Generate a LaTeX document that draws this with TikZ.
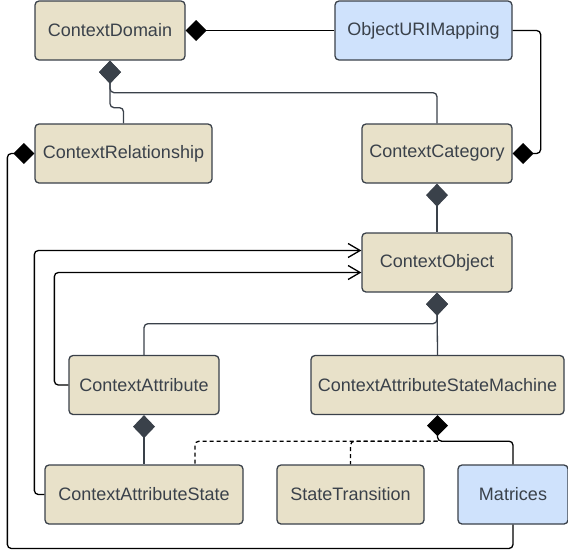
\documentclass[tikz,border=0pt]{standalone}
\usepackage{fontspec}
\setmainfont{Liberation Sans}
\usetikzlibrary{arrows.meta}
\definecolor{tan}{RGB}{232,225,201}
\definecolor{sky}{RGB}{207,226,252}
\definecolor{ink}{RGB}{58,65,74}
\begin{document}
\begin{tikzpicture}[x=1pt, y=-1pt,
    cls/.style = {draw=ink, line width=1.3pt, rounded corners=4pt, fill=tan, text=ink,
      minimum height=59pt, inner sep=0pt, font=\fontsize{18}{21}\selectfont},
    ext/.style = {cls, fill=sky},
    link/.style = {line width=1.3pt, rounded corners=4pt},
    owns/.style = {link, {Diamond[length=21pt, width=21pt]}-},
    part/.style = {link, draw=ink, {Diamond[length=23pt, width=22pt]}-},
    uses/.style = {link, -{Straight Barb[length=12pt, width=14pt]}},
    weak/.style = {link, dash pattern=on 4pt off 3pt}]
      \useasboundingbox (0,0) rectangle (568,555);

      \node[cls, minimum width=150pt] (dom) at (110,30.5) {ContextDomain};
      \node[ext, minimum width=177pt] (map) at (423.5,30.5) {ObjectURIMapping};
      \node[cls, minimum width=177pt] (rel) at (123.5,153.5) {ContextRelationship};
      \node[cls, minimum width=150pt] (cat) at (437,153.5) {ContextCategory};
      \node[cls, minimum width=150pt] (obj) at (437,262.5) {ContextObject};
      \node[cls, minimum width=150pt] (attr) at (144,385) {ContextAttribute};
      \node[cls, minimum width=253pt] (asm) at (437.5,385) {ContextAttributeStateMachine};
      \node[cls, minimum width=198pt] (ast) at (144,494.5) {ContextAttributeState};
      \node[cls, minimum width=147pt] (trans) at (350.5,494.5) {StateTransition};
      \node[ext, minimum width=110pt] (mat) at (513,494.5) {Matrices};

      \draw[owns] (dom.east) -- (map.west);
      \draw[owns] (cat.east) -- ++(28,0) |- (map.east);
      \draw[owns] (rel.west) -- ++(-27,0) -- ++(0,395) -| (mat.south);
      \draw[owns] (asm.south) -- ++(0,26) -| (mat.north);

      \draw[part] (dom.south) -- ++(0,32) -| (cat.north);
      \draw[part] (dom.south) -- ++(0,47) -| (rel.north);
      \draw[part] (cat.south) to (obj.north);
      \draw[part] (obj.south) to (asm.north);
      \draw[part] (obj.south) -- ++(0,31) -| (attr.north);
      \draw[part] (attr.south) to (ast.north);

      \draw[uses] (ast.west) -- ++(-10,0) |- ([yshift=12pt]obj.west);
      \draw[uses] (attr.west) -- ++(-14,0) |- ([yshift=-10pt]obj.west);

      \draw[weak] (asm.south) ++(0,26) -| ([xshift=51pt]ast.north);
      \draw[weak] (asm.south) ++(0,26) -| (trans.north);

    \end{tikzpicture}
\end{document}
